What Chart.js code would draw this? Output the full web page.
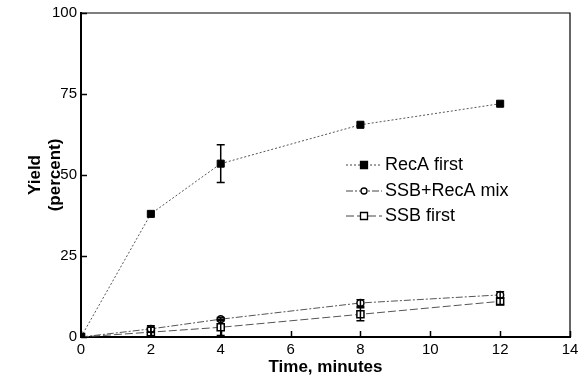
<!DOCTYPE html>
<html>
<head>
<meta charset="utf-8">
<script src="https://cdn.jsdelivr.net/npm/chart.js@4.4.0/dist/chart.umd.min.js"></script>
<style>
  html, body { margin: 0; padding: 0; background: #fff; }
  #wrap { width: 579px; height: 381px; }
</style>
</head>
<body>
<div id="wrap"><canvas id="yieldChart" width="579" height="381"></canvas></div>
<script>
// data
var times = [0, 2, 4, 8, 12];
var recaFirst = [0, 38, 53.5, 65.5, 72];
var recaFirstErr = [0, 0, 5.8, 0, 0];
var ssbRecaMix = [0, 2.5, 5.5, 10.5, 13];
var ssbRecaMixErr = [0, 1, 0.5, 1, 1];
var ssbFirst = [0, 1.5, 3, 7, 11];
var ssbFirstErr = [0, 1.5, 2.5, 2, 1];
var seriesNames = ['RecA first', 'SSB+RecA mix', 'SSB first'];
var xTicks = [0, 2, 4, 6, 8, 10, 12, 14];
var yTicks = [0, 25, 50, 75, 100];

function toPoints(vals) {
    return times.map(function (t, i) { return { x: t, y: vals[i] }; });
}

var FONT = '"Liberation Sans", Arial, sans-serif';

// error bars, drawn through the scales
var errorBars = {
    id: 'errorBars',
    afterDatasetsDraw: function (chart) {
        var ctx = chart.ctx;
        var xs = chart.scales.x, ys = chart.scales.y;
        var errs = [recaFirstErr, ssbRecaMixErr, ssbFirstErr];
        var vals = [recaFirst, ssbRecaMix, ssbFirst];
        ctx.save();
        ctx.strokeStyle = '#000';
        ctx.lineWidth = 1.5;
        errs.forEach(function (e, s) {
            times.forEach(function (t, i) {
                if (!e[i]) return;
                var px = xs.getPixelForValue(t);
                var top = ys.getPixelForValue(vals[s][i] + e[i]);
                var bot = ys.getPixelForValue(vals[s][i] - e[i]);
                ctx.beginPath();
                ctx.moveTo(px, top); ctx.lineTo(px, bot);
                ctx.moveTo(px - 4, top); ctx.lineTo(px + 4, top);
                ctx.moveTo(px - 4, bot); ctx.lineTo(px + 4, bot);
                ctx.stroke();
            });
        });
        ctx.restore();
    }
};

// box round the plot area, inward ticks and the key
var frameAndKey = {
    id: 'frameAndKey',
    afterDraw: function (chart) {
        var ctx = chart.ctx, a = chart.chartArea;
        var xs = chart.scales.x, ys = chart.scales.y;
        ctx.save();
        ctx.strokeStyle = '#000';
        ctx.lineWidth = 1.2;
        ctx.beginPath();
        ctx.moveTo(a.left, a.top); ctx.lineTo(a.right, a.top); ctx.lineTo(a.right, a.bottom);
        ctx.stroke();

        ctx.lineWidth = 1.5;
        ctx.beginPath();
        xTicks.forEach(function (v) {
            var px = Math.round(xs.getPixelForValue(v)) + 0.5;
            ctx.moveTo(px, a.bottom); ctx.lineTo(px, a.bottom - 6);
        });
        yTicks.forEach(function (v) {
            var py = Math.round(ys.getPixelForValue(v)) + 0.5;
            ctx.moveTo(a.left, py); ctx.lineTo(a.left + 6, py);
        });
        ctx.stroke();

        var rows = [165, 191, 216];
        chart.data.datasets.forEach(function (ds, i) {
            var y = rows[i];
            ctx.strokeStyle = '#444';
            ctx.lineWidth = 1;
            ctx.setLineDash(ds.borderDash);
            ctx.beginPath();
            ctx.moveTo(346, y); ctx.lineTo(382, y);
            ctx.stroke();
            ctx.setLineDash([]);
            ctx.fillStyle = ds.pointBackgroundColor;
            ctx.strokeStyle = '#000';
            ctx.lineWidth = 1.3;
            ctx.beginPath();
            if (ds.pointStyle === 'circle') {
                ctx.arc(364, y, 3, 0, Math.PI * 2);
            } else {
                ctx.rect(360.5, y - 3.5, 7, 7);
            }
            ctx.fill(); ctx.stroke();
            ctx.fillStyle = '#000';
            ctx.font = '18px ' + FONT;
            ctx.textBaseline = 'middle';
            ctx.fillText(ds.label, 385, y);
        });
        ctx.restore();
    }
};

var chart = new Chart(document.getElementById('yieldChart').getContext('2d'), {
    type: 'line',
    data: {
        datasets: [{
            label: seriesNames[0],
            data: toPoints(recaFirst),
            borderColor: '#555',
            borderWidth: 1,
            borderDash: [2, 2],
            pointStyle: 'rect',
            pointRadius: 5,
            pointBackgroundColor: '#000',
            pointBorderColor: '#000',
            pointBorderWidth: 1
        }, {
            label: seriesNames[1],
            data: toPoints(ssbRecaMix),
            borderColor: '#555',
            borderWidth: 1,
            borderDash: [7, 2, 2, 2],
            pointStyle: 'circle',
            pointRadius: 3.5,
            pointBackgroundColor: '#fff',
            pointBorderColor: '#000',
            pointBorderWidth: 1.5
        }, {
            label: seriesNames[2],
            data: toPoints(ssbFirst),
            borderColor: '#555',
            borderWidth: 1,
            borderDash: [8, 3],
            pointStyle: 'rect',
            pointRadius: 5,
            pointBackgroundColor: '#fff',
            pointBorderColor: '#000',
            pointBorderWidth: 1.5
        }]
    },
    options: {
        responsive: false,
        animation: false,
        layout: { padding: { top: 6, right: 0, left: 0, bottom: 0 } },
        plugins: { legend: { display: false }, tooltip: { enabled: false } },
        scales: {
            x: {
                type: 'linear',
                min: 0, max: 14,
                afterBuildTicks: function (s) { s.ticks = xTicks.map(function (v) { return { value: v }; }); },
                afterFit: function (s) { s.height = 44; s.paddingRight = 9; },
                grid: { display: false, drawTicks: false },
                border: { color: '#000', width: 2 },
                ticks: { color: '#000', padding: 4, maxRotation: 0, font: { family: FONT, size: 15 } },
                title: {
                    display: true, text: 'Time, minutes', color: '#000',
                    padding: { top: 0, bottom: 3 },
                    font: { family: FONT, size: 17, weight: 'bold' }
                }
            },
            y: {
                min: 0, max: 100,
                afterBuildTicks: function (s) { s.ticks = yTicks.map(function (v) { return { value: v }; }); },
                afterFit: function (s) { s.width = 81; },
                grid: { display: false, drawTicks: false },
                border: { color: '#000', width: 2 },
                ticks: { color: '#000', padding: 4, font: { family: FONT, size: 15 } },
                title: {
                    display: true, text: ['Yield', '(percent)'], color: '#000',
                    padding: { top: 25, bottom: 0 },
                    font: { family: FONT, size: 17, weight: 'bold' }
                }
            }
        }
    },
    plugins: [errorBars, frameAndKey]
});
</script>
</body>
</html>
